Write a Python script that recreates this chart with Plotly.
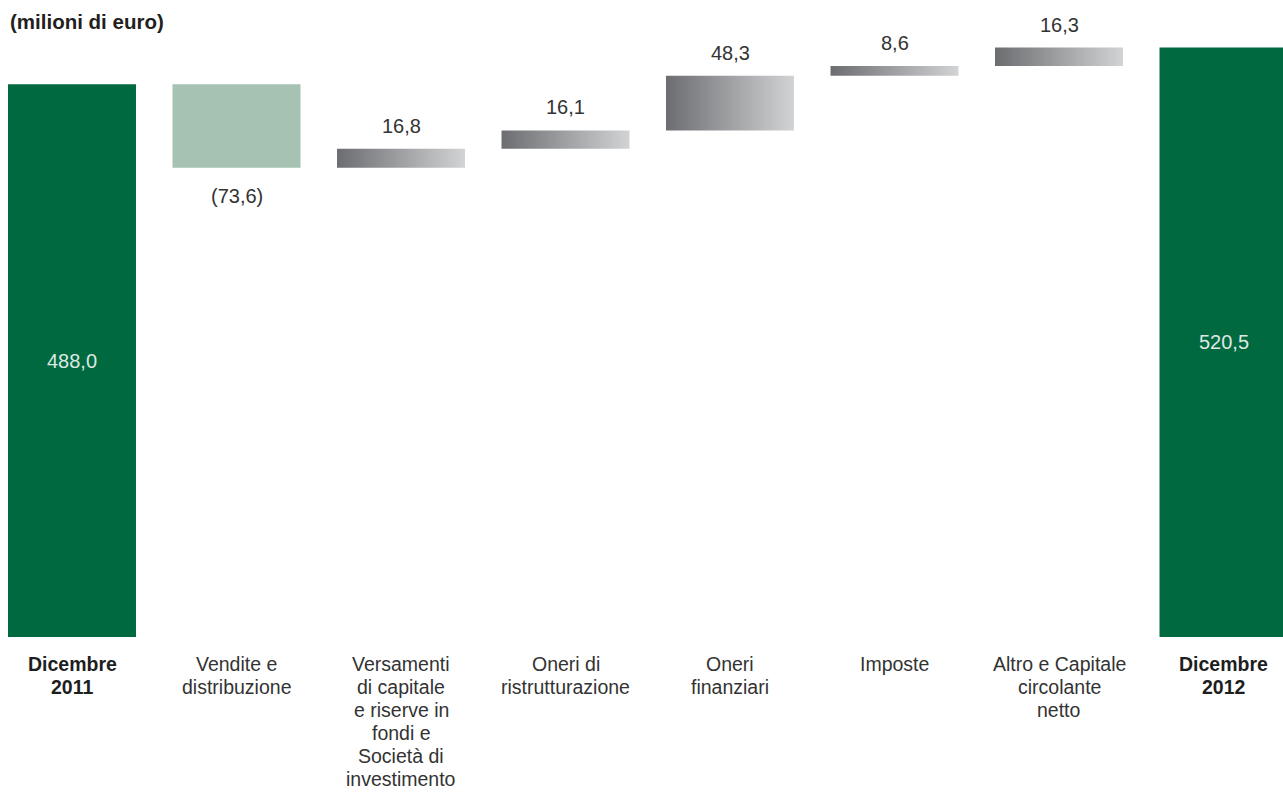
import plotly.graph_objects as go

# Waterfall: net financial position, December 2011 -> December 2012 (million euro)
categories = [
    "Dicembre\n2011",
    "Vendite e\ndistribuzione",
    "Versamenti\ndi capitale\ne riserve in\nfondi e\nSocietà di\ninvestimento",
    "Oneri di\nristrutturazione",
    "Oneri\nfinanziari",
    "Imposte",
    "Altro e Capitale\ncircolante\nnetto",
    "Dicembre\n2012",
]
start_value = 488.0
deltas = [-73.6, 16.8, 16.1, 48.3, 8.6, 16.3]
end_value = 520.5

DARK_GREEN = "#006940"
LIGHT_GREEN = "#a5c2b3"
GRAD_LEFT = "#6c6d70"
GRAD_RIGHT = "#d2d3d5"
TEXT = "#333333"
FONT = "Liberation Sans"
BAR_W = 0.778


def fmt(v):
    s = f"{abs(v):.1f}".replace(".", ",")
    return f"({s})" if v < 0 else s


fig = go.Figure()
n = len(categories)
positions = list(range(n))

# Totals (first and last columns)
fig.add_trace(go.Bar(
    x=[positions[0], positions[-1]], y=[start_value, end_value],
    width=BAR_W, marker=dict(color=DARK_GREEN, line=dict(width=0)),
    hoverinfo="skip", showlegend=False,
))

annotations = []
for p, v in ((positions[0], start_value), (positions[-1], end_value)):
    annotations.append(dict(
        x=p, y=v / 2, xref="x", yref="y", text=fmt(v), showarrow=False,
        font=dict(family=FONT, size=20, color="#dde8e2"), yanchor="middle",
    ))

# Intermediate steps
running = start_value
for i, d in enumerate(deltas):
    p = positions[i + 1]
    lo, hi = (running + d, running) if d < 0 else (running, running + d)
    if d < 0:
        fig.add_trace(go.Bar(
            x=[p], y=[hi - lo], base=[lo], width=BAR_W,
            marker=dict(color=LIGHT_GREEN, line=dict(width=0)),
            hoverinfo="skip", showlegend=False,
        ))
        annotations.append(dict(
            x=p, y=lo, xref="x", yref="y", text=fmt(d), showarrow=False,
            font=dict(family=FONT, size=20, color=TEXT),
            yanchor="middle", yshift=-28,
        ))
    else:
        x0, x1 = p - BAR_W / 2, p + BAR_W / 2
        fig.add_trace(go.Scatter(
            x=[x0, x1, x1, x0, x0], y=[lo, lo, hi, hi, lo],
            mode="lines", line=dict(width=0), fill="toself",
            fillgradient=dict(type="horizontal",
                              colorscale=[[0, GRAD_LEFT], [1, GRAD_RIGHT]]),
            hoverinfo="skip", showlegend=False,
        ))
        annotations.append(dict(
            x=p, y=hi, xref="x", yref="y", text=fmt(d), showarrow=False,
            font=dict(family=FONT, size=20, color=TEXT),
            yanchor="middle", yshift=23,
        ))
    running += d

# Category labels under the columns, one line at a time
for i, label in enumerate(categories):
    bold = i in (0, n - 1)
    for k, line in enumerate(label.split("\n")):
        annotations.append(dict(
            x=positions[i], y=0, xref="x", yref="y",
            text=f"<b>{line}</b>" if bold else line, showarrow=False,
            font=dict(family=FONT, size=19.5,
                      color="#1e1e1e" if bold else TEXT),
            yanchor="middle", yshift=-27 - k * 23.0,
        ))

fig.update_layout(
    width=1283, height=792,
    margin=dict(l=0, r=0, t=0, b=155),
    paper_bgcolor="white", plot_bgcolor="white",
    title=dict(
        text="<b>(milioni di euro)</b>", xref="container", yref="container",
        x=10 / 1283, y=1 - 22 / 792, xanchor="left", yanchor="middle",
        font=dict(family=FONT, size=20.5, color="#231f20"),
    ),
    xaxis=dict(range=[-0.4377, 7.3617], showgrid=False, zeroline=False,
               showticklabels=False, showline=False, fixedrange=True),
    yaxis=dict(range=[0, 562.5], showgrid=False, zeroline=False,
               showticklabels=False, showline=False, fixedrange=True),
    annotations=annotations,
    showlegend=False,
)

fig.write_html("out.html", config={"displayModeBar": False})
